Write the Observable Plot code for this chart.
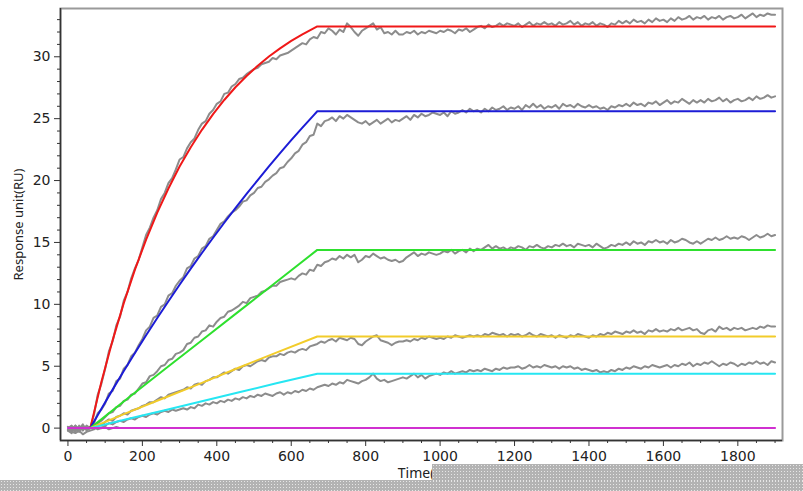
<!DOCTYPE html>
<html>
<head>
<meta charset="utf-8">
<script src="https://cdn.jsdelivr.net/npm/d3@7"></script>
<script src="https://cdn.jsdelivr.net/npm/@observablehq/plot@0.6"></script>
<style>
  html, body { margin: 0; padding: 0; background: #fff; }
  #wrap { position: relative; width: 803px; height: 491px; overflow: hidden; }
  .dots { position: absolute; background-color: #b3b3b3;
    background-image: radial-gradient(circle, #e6e6e6 0.7px, transparent 0.9px);
    background-size: 3px 3px; }
</style>
</head>
<body>
<div id="wrap">
  <div id="chart"></div>
  <div class="dots" style="left:0;top:480px;width:803px;height:11px"></div>
  <div class="dots" style="left:432px;top:464px;width:371px;height:17px"></div>
</div>
<script>
// ---- sampling times of the measured curves (s) ----
const time = d3.range(0, 1901, 10);

// ---- measured (grey) curves, one value every 10 s ----
const measRed = [
0.1,-0.2,0.2,-0.1,0.3,-0.2,0.0,1.1,2.7,3.6,
4.8,6.2,7.0,8.3,9.0,10.3,11.0,12.1,12.9,13.6,
14.6,15.6,16.2,17.0,17.6,18.5,19.0,19.8,20.2,20.9,
21.7,21.9,22.6,23.1,23.4,24.1,24.6,24.8,25.4,25.7,
26.2,26.4,27.0,27.1,27.6,27.8,28.2,28.3,28.6,28.8,
29.0,29.1,29.4,29.5,29.6,29.9,29.8,30.1,30.2,30.3,
30.5,30.7,30.9,31.1,31.0,31.4,31.6,31.5,32.0,31.9,
32.3,32.1,31.8,32.2,32.0,32.7,32.4,32.0,31.7,32.1,
32.3,32.5,32.7,32.2,32.4,31.9,32.0,31.8,32.1,31.8,
31.8,32.0,31.9,32.1,31.8,32.0,31.9,32.1,32.0,31.9,
32.1,32.0,32.2,32.1,31.9,32.2,32.1,32.3,32.0,32.2,
32.4,32.5,32.3,32.6,32.4,32.5,32.7,32.5,32.7,32.6,
32.5,32.7,32.4,32.6,32.8,32.5,32.7,32.6,32.8,32.6,
32.7,32.5,32.8,32.6,32.7,32.9,32.6,32.8,32.5,32.7,
32.6,32.8,32.5,32.7,32.6,32.4,32.7,32.6,32.9,32.7,
32.9,32.7,33.0,32.8,32.9,32.7,33.0,32.8,33.1,32.9,
33.0,32.8,33.1,32.9,33.2,33.0,33.1,33.3,33.0,33.2,
33.1,33.3,33.0,33.2,33.1,33.3,33.0,33.2,33.3,33.1,
33.2,33.4,33.1,33.3,33.5,33.2,33.4,33.3,33.5,33.4,
33.4];
const measBlue = [
-0.2,-0.4,0.1,-0.3,0.2,-0.1,0.1,0.4,1.2,1.5,
2.0,2.8,3.0,3.8,4.0,4.8,5.1,5.8,6.1,6.7,
7.2,7.9,8.2,8.9,9.1,9.8,10.0,10.7,10.9,11.5,
11.9,12.2,12.9,13.1,13.7,13.9,14.5,14.7,15.3,15.5,
16.0,16.5,16.7,17.1,17.4,17.6,17.9,18.3,18.4,18.8,
19.0,19.4,19.5,19.9,20.1,20.4,20.6,21.0,21.1,21.5,
21.8,22.2,22.4,22.9,23.1,23.6,23.7,24.6,24.4,24.8,
24.9,25.1,24.8,25.2,25.0,25.3,25.1,24.9,24.7,24.6,
24.8,24.5,24.7,24.9,24.6,24.8,25.0,24.7,24.9,24.8,
25.0,25.2,24.9,25.3,25.1,25.4,25.2,25.3,25.5,25.4,
25.3,25.5,25.2,25.6,25.4,25.5,25.7,25.5,25.8,25.6,
25.7,25.5,25.8,25.6,25.9,25.7,25.8,26.0,25.7,25.9,
25.8,26.0,25.7,26.1,25.9,26.2,25.9,26.1,25.8,26.0,
25.9,26.1,25.8,26.2,26.0,26.1,25.9,26.2,26.0,25.9,
26.1,25.9,26.0,25.8,25.9,25.7,26.0,25.9,26.1,26.0,
26.2,26.0,26.3,26.1,26.2,26.0,26.3,26.2,26.4,26.1,
26.3,26.5,26.2,26.4,26.3,26.6,26.4,26.2,26.5,26.3,
26.5,26.3,26.6,26.4,26.5,26.7,26.4,26.6,26.3,26.5,
26.6,26.4,26.5,26.7,26.5,26.8,26.6,26.7,26.9,26.7,
26.8];
const measGreen = [
0.0,0.2,-0.1,0.1,-0.2,0.2,0.0,0.3,0.4,0.6,
0.9,1.2,1.3,1.7,1.8,2.2,2.3,2.7,2.8,3.2,
3.6,3.7,4.2,4.3,4.6,5.0,5.1,5.5,5.6,6.0,
6.1,6.3,6.8,6.9,7.3,7.4,7.8,7.9,8.3,8.2,
8.6,8.9,9.0,9.4,9.5,9.7,9.9,10.2,10.1,10.5,
10.6,10.7,11.0,11.1,11.3,11.5,11.5,11.8,11.9,12.0,
12.1,12.0,12.3,12.5,12.4,12.8,12.7,13.2,13.1,13.4,
13.5,13.7,13.6,13.9,13.7,14.0,13.8,14.0,13.4,13.6,
13.9,13.8,14.1,13.9,13.7,13.8,13.6,13.5,13.6,13.4,
13.5,13.8,14.0,14.2,13.9,14.1,14.0,14.2,14.1,14.0,
14.1,14.3,14.2,14.4,14.1,14.3,14.4,14.2,14.5,14.3,
14.5,14.4,14.6,14.8,14.5,14.7,14.5,14.6,14.4,14.6,
14.5,14.7,14.6,14.4,14.7,14.6,14.8,14.6,14.5,14.7,
14.6,14.8,14.7,14.9,14.7,14.8,14.6,14.9,14.8,14.7,
14.8,14.6,14.9,14.7,14.5,14.6,14.8,14.7,14.9,14.8,
15.0,14.8,15.1,14.9,15.0,14.8,15.1,15.0,15.2,15.0,
15.1,14.9,15.2,15.0,15.1,15.3,15.2,15.0,14.9,15.1,
14.9,15.1,15.3,15.2,15.4,15.2,15.3,15.5,15.3,15.4,
15.3,15.5,15.4,15.2,15.4,15.6,15.4,15.5,15.7,15.5,
15.6];
const measYellow = [
0.1,-0.1,0.2,-0.2,0.1,-0.1,0.0,0.1,0.3,0.2,
0.5,0.7,0.6,0.9,1.0,1.2,1.1,1.4,1.5,1.6,
1.8,1.9,2.1,2.1,2.3,2.5,2.4,2.7,2.8,2.9,
3.0,3.1,3.3,3.2,3.5,3.6,3.5,3.8,3.9,4.1,
4.1,4.3,4.5,4.4,4.6,4.8,4.7,5.0,5.1,5.0,
5.2,5.4,5.5,5.4,5.7,5.8,5.8,6.0,5.9,6.1,
6.2,6.1,6.3,6.4,6.3,6.6,6.7,6.8,7.0,6.9,
7.1,7.2,7.0,7.3,7.2,7.1,7.3,7.2,6.8,6.7,
7.0,7.2,7.4,7.5,7.1,7.0,6.9,6.7,6.9,7.0,
7.0,7.1,7.0,7.2,7.1,7.3,7.2,7.4,7.3,7.2,
7.3,7.2,7.4,7.3,7.5,7.4,7.3,7.4,7.5,7.4,
7.5,7.4,7.6,7.5,7.7,7.6,7.5,7.6,7.4,7.6,
7.5,7.6,7.4,7.5,7.7,7.5,7.4,7.6,7.5,7.4,
7.5,7.3,7.5,7.4,7.3,7.5,7.4,7.6,7.5,7.4,
7.3,7.5,7.4,7.6,7.5,7.7,7.6,7.8,7.7,7.6,
7.8,7.7,7.9,7.7,7.8,7.6,7.9,7.8,8.0,7.8,
7.9,7.8,8.0,7.9,8.1,7.9,8.0,8.1,7.9,8.0,
7.7,7.6,7.9,8.0,7.8,8.2,8.0,8.1,7.9,8.1,
8.0,8.1,7.9,8.0,8.1,8.0,8.2,8.1,8.3,8.2,
8.2];
const measCyan = [
-0.1,-0.3,-0.4,-0.2,-0.5,-0.3,-0.2,-0.1,0.1,0.0,
0.2,0.4,0.3,0.5,0.6,0.5,0.7,0.8,0.7,0.9,
1.0,0.9,1.1,1.2,1.1,1.3,1.4,1.3,1.5,1.4,
1.5,1.6,1.5,1.7,1.6,1.9,1.8,2.0,1.9,2.1,
2.0,2.2,2.1,2.3,2.2,2.4,2.3,2.5,2.4,2.6,
2.5,2.7,2.6,2.8,2.7,2.6,2.8,2.9,2.7,2.9,
2.8,3.0,2.9,3.1,3.0,3.2,3.1,3.3,3.4,3.5,
3.4,3.6,3.5,3.7,3.6,3.9,3.8,3.7,3.6,3.8,
3.9,4.1,4.4,4.0,3.8,3.9,3.7,3.8,3.9,4.0,
4.1,4.0,4.2,4.4,4.1,4.3,4.0,4.2,4.3,4.4,
4.3,4.5,4.4,4.6,4.4,4.5,4.6,4.5,4.7,4.6,
4.7,4.6,4.8,4.7,4.6,4.8,4.7,4.9,4.8,4.9,
4.9,5.0,4.8,4.9,5.1,4.9,5.0,4.9,5.1,5.0,
4.9,5.0,4.8,5.0,4.9,5.0,4.8,4.9,4.7,4.8,
4.7,4.6,4.7,4.5,4.6,4.5,4.7,4.6,4.8,4.7,
4.9,4.8,5.0,4.9,4.8,5.0,4.9,5.1,5.0,4.9,
5.0,5.1,4.9,5.1,5.0,5.2,5.1,5.3,5.0,5.2,
5.1,5.3,5.2,5.4,5.2,5.0,5.2,5.1,5.3,5.2,
5.0,5.2,5.1,5.3,5.2,5.4,5.2,5.3,5.1,5.4,
5.3];
// reference (blank) channel, visible only before it hides under the magenta fit
const measBlankTime = [0,10,20,30,40,50,60,70,80,90,100,110,120,130,140,150];
const measBlank = [-0.2,0.1,-0.3,0.2,-0.1,0.1,0.0,0.1,-0.1,0.0,0.1,-0.1,0.0,0.1,0.0,0.0];

// ---- fitted curves ----
const fitTimeRB = [0,60,90,120,150,180,210,240,270,300,330,360,390,420,450,480,510,540,570,600,630,660,670,1900];
const fitRed  = [0,0,3.74,7.09,10.10,12.80,15.23,17.41,19.36,21.13,22.69,24.10,25.37,26.51,27.54,28.45,29.28,30.02,30.68,31.28,31.81,32.29,32.45,32.45];
const fitBlue = [0,0,1.57,3.11,4.61,6.07,7.50,8.89,10.25,11.58,12.88,14.15,15.38,16.59,17.77,18.92,20.04,21.14,22.21,23.26,24.28,25.27,25.60,25.60];
const fitTimeGYC = [0,60,160,260,360,460,560,670,1900];
const fitGreen  = [0,0,2.4,4.75,7.1,9.45,11.8,14.4,14.4];
const fitYellow = [0,0,1.25,2.45,3.65,4.9,6.1,7.4,7.4];
const fitCyan   = [0,0,0.73,1.45,2.17,2.9,3.62,4.4,4.4];
const fitTimeBlank = [0,1900];
const fitBlank  = [0,0];

// ---- axis ticks ----
const xTicks = [0,200,400,600,800,1000,1200,1400,1600,1800];
const xMinor = [50,100,150,250,300,350,450,500,550,650,700,750,850,900,950,1050,1100,1150,1250,1300,1350,1450,1500,1550,1650,1700,1750,1850,1900];
const yTicks = [0,5,10,15,20,25,30];
const yMinor = [1,2,3,4,6,7,8,9,11,12,13,14,16,17,18,19,21,22,23,24,26,27,28,29,31,32,33];

const colors = {red:"#f01818", blue:"#1c1cd6", green:"#2ee02e", yellow:"#f2cc2a", cyan:"#26e6f2", blank:"#d030d0", grey:"#8c8c8c"};

function series(ts, vs) { return ts.map((t, i) => ({t, v: vs[i]})); }
const measured = [measRed, measBlue, measGreen, measYellow, measCyan].map(a => series(time, a));
measured.push(series(measBlankTime, measBlank));
const fits = [
  [series(fitTimeRB, fitRed), colors.red],
  [series(fitTimeRB, fitBlue), colors.blue],
  [series(fitTimeGYC, fitGreen), colors.green],
  [series(fitTimeGYC, fitYellow), colors.yellow],
  [series(fitTimeGYC, fitCyan), colors.cyan],
  [series(fitTimeBlank, fitBlank), colors.blank]
];

const chart = Plot.plot({
  width: 803, height: 491,
  marginTop: 8, marginRight: 21, marginBottom: 51, marginLeft: 60,
  x: {domain: [-20, 1920]},
  y: {domain: [-1, 33.9]},
  style: {fontFamily: "DejaVu Sans, sans-serif", fontSize: "14px", color: "#222", background: "#fff"},
  marks: [
    Plot.frame({stroke: "#9a9a9a", strokeWidth: 2}),
    Plot.ruleX([-20], {stroke: "#333", strokeWidth: 1.5}),
    Plot.ruleY([-1], {stroke: "#333", strokeWidth: 1.5}),
    Plot.axisY({ticks: yTicks, tickSize: 6, tickPadding: 4, label: null, stroke: "#333"}),
    Plot.axisY({ticks: yMinor, tickSize: 3, tickFormat: () => "", label: null, stroke: "#333"}),
    Plot.axisX({ticks: xTicks, tickSize: 6, tickPadding: 5, tickFormat: d3.format("d"), label: null, stroke: "#333"}),
    Plot.axisX({ticks: xMinor, tickSize: 3, tickFormat: () => "", label: null, stroke: "#333"}),
    ...measured.map(d => Plot.line(d, {x: "t", y: "v", stroke: colors.grey, strokeWidth: 2})),
    ...fits.map(([d, c]) => Plot.line(d, {x: "t", y: "v", stroke: c, strokeWidth: 2})),
    Plot.text(["Response unit(RU)"], {frameAnchor: "left", textAnchor: "middle", dx: -42, rotate: -90, fontSize: 13, fontFamily: "Noto Sans, sans-serif", fill: "#222"}),
    Plot.text(["Time(s)"], {frameAnchor: "bottom", textAnchor: "middle", dy: 37, fontSize: 14, fontFamily: "Noto Sans, sans-serif", fill: "#222"})
  ]
});
document.getElementById("chart").appendChild(chart);
</script>
</body>
</html>
